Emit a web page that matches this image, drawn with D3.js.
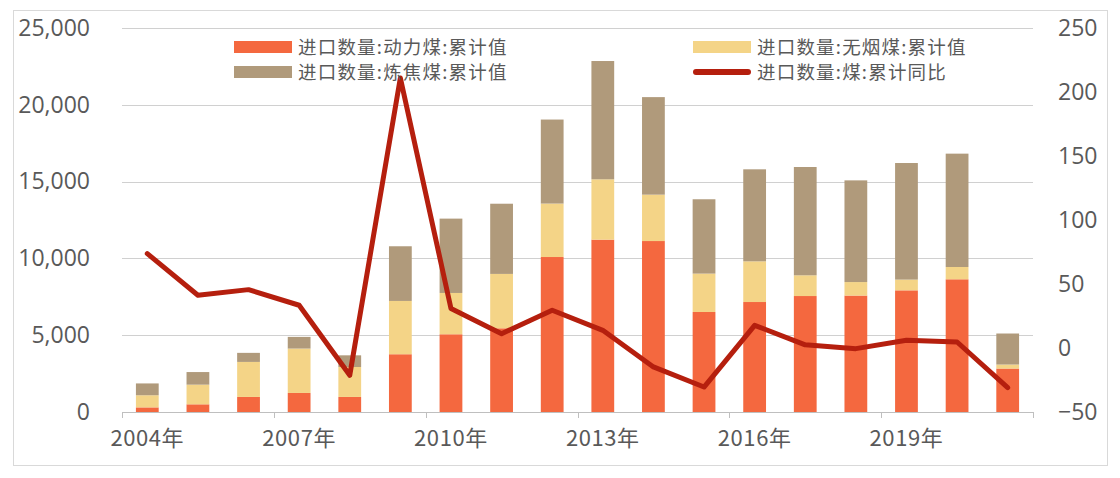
<!DOCTYPE html>
<html><head><meta charset="utf-8">
<script src="https://cdn.jsdelivr.net/npm/d3@7"></script>
<style>
html,body{margin:0;padding:0;background:#fff;}
svg{display:block;}
text{fill:#595959;}
</style></head>
<body><svg id="chart" width="1120" height="478"></svg>
<script>
const years = ["2004","2005","2006","2007","2008","2009","2010","2011","2012","2013","2014","2015","2016","2017","2018","2019","2020","2021"];
const powerCoal = [300,500,980,1240,980,3760,5060,5450,10090,11220,11130,6510,7160,7550,7580,7920,8640,2830];
const anthracite = [790,1280,2280,2890,1950,3470,2690,3540,3480,3930,3020,2500,2650,1350,880,700,800,260];
const cokingCoal = [770,820,590,760,760,3560,4840,4570,5470,7700,6350,4840,5990,7050,6620,7590,7380,2020];
const coalYoY = [73.7,41.2,45.6,33.4,-21.3,211,30.8,11.2,29.5,13.8,-14.8,-30.5,17.7,2.5,-0.5,6,4.7,-31];
const leftTicks = [0,5000,10000,15000,20000,25000];
const rightTicks = [-50,0,50,100,150,200,250];
const xLabelYears = ["2004","2007","2010","2013","2016","2019"];
const seriesNames = ["进口数量:动力煤:累计值","进口数量:无烟煤:累计值","进口数量:炼焦煤:累计值","进口数量:煤:累计同比"];
const colors = ["#F4683F","#F4D487","#B09A7B","#B51F0E"];

const svg = d3.select("#chart");
const L = 122, R = 1033, T = 28, B = 412;
const numFont = "'Open Sans','Noto Sans',sans-serif";
const cjkFont = "'Noto Sans CJK SC','Noto Sans',sans-serif";

// outer border
svg.append("rect").attr("x",13.5).attr("y",10.5).attr("width",1094).attr("height",455)
  .attr("fill","#fff").attr("stroke","#d9d9d9").attr("stroke-width",1);

const xOuter = d3.scaleBand().domain(years).range([L,R]).padding(0);
const x = d3.scaleBand().domain(years).range([L,R]).paddingInner(0.55).paddingOuter(0.275);
const yL = d3.scaleLinear().domain([0,25000]).range([B,T]);
const yR = d3.scaleLinear().domain([-50,250]).range([B,T]);

// gridlines
svg.append("g").selectAll("line").data(leftTicks.filter(d=>d>0)).join("line")
  .attr("x1",L).attr("x2",R).attr("y1",d=>Math.round(yL(d))+0.5).attr("y2",d=>Math.round(yL(d))+0.5)
  .attr("stroke","#d0d0d0").attr("stroke-width",1);

// stacked bars
const table = years.map((y,i)=>({year:y, power:powerCoal[i], anth:anthracite[i], coke:cokingCoal[i]}));
const stack = d3.stack().keys(["power","anth","coke"])(table);
svg.append("g").selectAll("g").data(stack).join("g").attr("fill",(d,i)=>colors[i])
  .selectAll("rect").data(d=>d).join("rect")
  .attr("x",d=>x(d.data.year)).attr("width",x.bandwidth())
  .attr("y",d=>yL(d[1])).attr("height",d=>yL(d[0])-yL(d[1]));

// x axis line + ticks
svg.append("line").attr("x1",L).attr("x2",R).attr("y1",B+0.5).attr("y2",B+0.5).attr("stroke","#bfbfbf");
const tickPos = years.filter((d,i)=>i%3===0).map(d=>xOuter(d)).concat([R]);
svg.append("g").selectAll("line").data(tickPos).join("line")
  .attr("x1",d=>Math.round(d)+0.5).attr("x2",d=>Math.round(d)+0.5).attr("y1",B).attr("y2",B+6)
  .attr("stroke","#bfbfbf");

// x labels
const xAxis = svg.append("g").attr("transform",`translate(0,${B})`)
  .call(d3.axisBottom(x).tickValues(xLabelYears).tickSize(0).tickPadding(24).tickFormat(d=>d+"年"));
xAxis.select(".domain").remove();
xAxis.selectAll("text").attr("font-family",cjkFont).attr("font-size",22).attr("letter-spacing","0.6px")
  .attr("fill","#595959").attr("dy","0.45em");

// left axis
const la = svg.append("g").attr("transform",`translate(${L},0)`)
  .call(d3.axisLeft(yL).tickValues(leftTicks).tickSize(0).tickPadding(32).tickFormat(d3.format(",")));
la.select(".domain").remove();
la.selectAll("text").attr("font-family",numFont).attr("font-size",23).attr("fill","#595959");

// right axis
const ra = svg.append("g").attr("transform",`translate(${R},0)`)
  .call(d3.axisRight(yR).tickValues(rightTicks).tickSize(0).tickPadding(25));
ra.select(".domain").remove();
ra.selectAll("text").attr("font-family",numFont).attr("font-size",23).attr("fill","#595959");

// line
const line = d3.line().x((d,i)=>x(years[i])+x.bandwidth()/2).y(d=>yR(d));
svg.append("path").datum(coalYoY).attr("d",line).attr("fill","none")
  .attr("stroke",colors[3]).attr("stroke-width",5).attr("stroke-linejoin","round").attr("stroke-linecap","round");

// legend
const legendItems = [
  {name:seriesNames[0], color:colors[0], type:"rect", x:234, y:47},
  {name:seriesNames[1], color:colors[1], type:"rect", x:693, y:47},
  {name:seriesNames[2], color:colors[2], type:"rect", x:234, y:72},
  {name:seriesNames[3], color:colors[3], type:"line", x:693, y:72}
];
const lg = svg.append("g").selectAll("g").data(legendItems).join("g")
  .attr("transform",d=>`translate(${d.x},${d.y})`);
lg.filter(d=>d.type==="rect").append("rect").attr("x",0).attr("y",-6).attr("width",58).attr("height",12)
  .attr("fill",d=>d.color);
lg.filter(d=>d.type==="line").append("line").attr("x1",3).attr("x2",55).attr("y1",0).attr("y2",0)
  .attr("stroke",d=>d.color).attr("stroke-width",6).attr("stroke-linecap","round");
lg.append("text").attr("x",64).attr("y",0).attr("dy","0.36em").attr("font-family",cjkFont).attr("font-size",18.5)
  .attr("letter-spacing","1.2px").attr("fill","#595959").text(d=>d.name);
</script></body></html>
